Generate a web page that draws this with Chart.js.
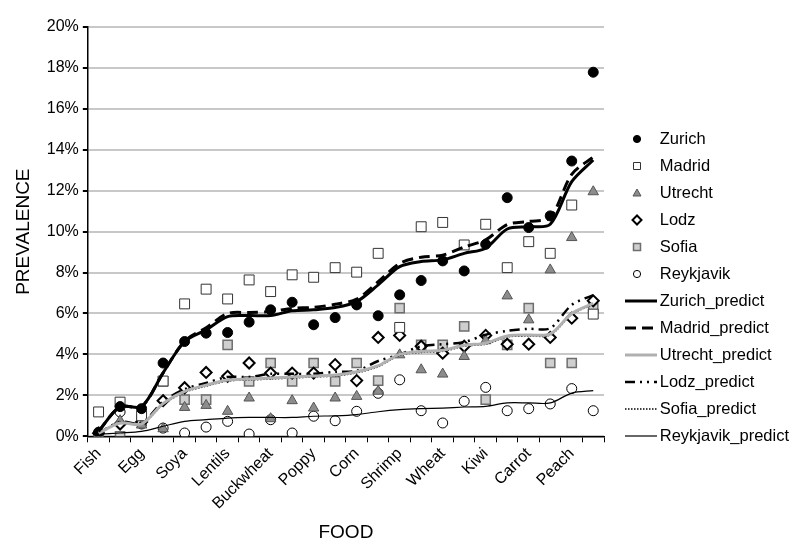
<!DOCTYPE html>
<html>
<head>
<meta charset="utf-8">
<script src="https://cdn.jsdelivr.net/npm/chart.js@4/dist/chart.umd.min.js"></script>
<style>
  html, body { margin: 0; padding: 0; background: #fff; }
  #wrap { width: 794px; height: 552px; }
</style>
</head>
<body>
<div id="wrap"><canvas id="myChart" width="794" height="552"></canvas></div>
<script>
// food categories (only every second one is labelled on the axis)
var foods = ['Fish', '', 'Egg', '', 'Soya', '', 'Lentils', '', 'Buckwheat', '', 'Poppy', '',
             'Corn', '', 'Shrimp', '', 'Wheat', '', 'Kiwi', '', 'Carrot', '', 'Peach', ''];

// observed prevalence, %
var zurich    = [0.2, 1.45, 1.35, 3.58, 4.63, 5.04, 5.07, 5.58, 6.18, 6.55, 5.45, 5.8, 6.42, 5.89, 6.91, 7.61, 8.57, 8.08, 9.38, 11.66, 10.2, 10.77, 13.45, 17.79];
var madrid    = [1.19, 1.67, 1.0, 2.7, 6.47, 7.19, 6.71, 7.64, 7.07, 7.89, 7.77, 8.24, 8.02, 8.94, 5.32, 10.24, 10.45, 9.35, 10.36, 8.24, 9.51, 8.94, 11.3, 5.97];
var utrecht   = [0.1, 0.76, 0.55, 0.37, 1.41, 1.51, 1.22, 1.87, 0.86, 1.74, 1.38, 1.87, 1.95, 2.2, 3.98, 3.25, 3.04, 3.9, 4.67, 6.86, 5.69, 8.13, 9.71, 11.95];
var lodz      = [0.15, 0.6, 0.7, 1.74, 2.37, 3.12, 2.93, 3.58, 3.09, 3.09, 3.09, 3.5, 2.72, 4.83, 4.93, 4.4, 4.06, 4.4, 4.93, 4.5, 4.5, 4.83, 5.77, 6.62];
var sofia     = [0, 0, 0.8, 2.68, 1.79, 1.79, 4.47, 2.68, 3.58, 2.68, 3.58, 2.68, 3.58, 2.72, 6.26, 4.47, 4.47, 5.37, 1.79, 4.47, 6.26, 3.58, 3.58, 6.26];
var reykjavik = [0.05, 1.19, 0.6, 0.4, 0.16, 0.45, 0.73, 0.11, 0.81, 0.16, 0.98, 0.76, 1.22, 2.1, 2.76, 1.25, 0.65, 1.71, 2.39, 1.25, 1.35, 1.58, 2.33, 1.25];

// predicted prevalence, %
var zurichPredict    = [0.25, 1.45, 1.45, 3.1, 4.63, 5.2, 5.85, 5.9, 5.9, 6.13, 6.18, 6.29, 6.58, 7.4, 8.29, 8.54, 8.62, 8.94, 9.19, 10.13, 10.24, 10.36, 12.44, 13.5];
var madridPredict    = [0.25, 1.45, 1.45, 3.1, 4.65, 5.3, 6.0, 6.05, 6.1, 6.25, 6.3, 6.45, 6.7, 7.55, 8.45, 8.75, 8.85, 9.25, 9.6, 10.35, 10.5, 10.7, 12.8, 13.65];
var utrechtPredict   = [0.15, 0.65, 0.6, 1.6, 2.2, 2.5, 2.75, 2.8, 2.85, 2.9, 2.95, 3.0, 3.15, 3.45, 4.0, 4.15, 4.2, 4.45, 4.55, 4.9, 4.95, 5.0, 6.0, 6.5];
var lodzPredict      = [0.15, 0.7, 0.65, 1.7, 2.3, 2.6, 2.9, 2.9, 3.05, 3.05, 3.05, 3.15, 3.2, 3.68, 4.0, 4.4, 4.5, 4.6, 4.96, 5.15, 5.25, 5.28, 6.42, 6.9];
var sofiaPredict     = [0.15, 0.7, 0.6, 1.55, 2.15, 2.45, 2.7, 2.75, 2.8, 2.85, 2.9, 2.95, 3.1, 3.4, 3.95, 4.1, 4.15, 4.4, 4.5, 4.85, 4.9, 4.95, 5.95, 6.45];
var reykjavikPredict = [0.1, 0.16, 0.24, 0.49, 0.73, 0.81, 0.89, 0.92, 0.92, 0.92, 0.98, 1.0, 1.06, 1.2, 1.3, 1.35, 1.38, 1.43, 1.46, 1.63, 1.63, 1.63, 2.11, 2.23];

var yTicks = [0, 2, 4, 6, 8, 10, 12, 14, 16, 18, 20];

Chart.defaults.font.family = '"Liberation Sans", Arial, sans-serif';
Chart.defaults.color = '#000';

function markers(label, data, style, radius, fill, border, bw) {
    return {
        label: label, data: data, showLine: false, order: 1,
        pointStyle: style, pointRadius: radius, pointHoverRadius: radius,
        pointBackgroundColor: fill, pointBorderColor: border, pointBorderWidth: bw,
        backgroundColor: fill, borderColor: border, borderWidth: bw
    };
}

function predict(label, data, color, width, dash) {
    return {
        label: label, data: data, order: 0,
        borderColor: color, backgroundColor: color, borderWidth: width,
        borderDash: dash, pointRadius: 0, tension: 0.3, fill: false
    };
}

// small pictures for the legend, so lines and markers keep their own look
// (the picture is centred on the legend box, so the drawing sits in its right part)
function legendIcon(ds) {
    var c = document.createElement('canvas');
    c.width = 48; c.height = 14;
    var g = c.getContext('2d');
    var cx = 28, cy = 7;
    if (ds.showLine === false) {
        g.fillStyle = ds.pointBackgroundColor;
        g.strokeStyle = ds.pointBorderColor;
        g.lineWidth = ds.pointBorderWidth;
        g.beginPath();
        if (ds.pointStyle === 'circle') {
            g.arc(cx, cy, 3.6, 0, Math.PI * 2);
        } else if (ds.pointStyle === 'rect') {
            g.rect(cx - 3.5, cy - 3.5, 7, 7);
        } else if (ds.pointStyle === 'triangle') {
            g.moveTo(cx, cy - 4); g.lineTo(cx + 4, cy + 3); g.lineTo(cx - 4, cy + 3); g.closePath();
        } else if (ds.pointStyle === 'rectRot') {
            g.moveTo(cx, cy - 4.5); g.lineTo(cx + 4.5, cy); g.lineTo(cx, cy + 4.5); g.lineTo(cx - 4.5, cy); g.closePath();
        }
        g.fill();
        g.stroke();
    } else {
        g.strokeStyle = ds.borderColor;
        g.lineWidth = ds.borderWidth;
        g.setLineDash(ds.borderDash || []);
        g.beginPath();
        g.moveTo(16, cy); g.lineTo(48, cy);
        g.stroke();
    }
    return c;
}

var ctx = document.getElementById('myChart').getContext('2d');
var myChart = new Chart(ctx, {
    type: 'line',
    data: {
        labels: foods,
        datasets: [
            markers('Zurich', zurich, 'circle', 5, '#000', '#000', 1),
            markers('Madrid', madrid, 'rect', 7, '#fff', '#333', 1),
            markers('Utrecht', utrecht, 'triangle', 6, '#8c8c8c', '#555', 1),
            markers('Lodz', lodz, 'rectRot', 5.5, '#fff', '#000', 2),
            markers('Sofia', sofia, 'rect', 6.5, '#cfcfcf', '#6e6e6e', 1.5),
            markers('Reykjavik', reykjavik, 'circle', 5, '#fff', '#000', 1),
            predict('Zurich_predict', zurichPredict, '#000', 3, []),
            predict('Madrid_predict', madridPredict, '#000', 3, [11, 6]),
            predict('Utrecht_predict', utrechtPredict, '#b0b0b0', 3, []),
            predict('Lodz_predict', lodzPredict, '#000', 2.5, [10, 5, 2, 5, 2, 5]),
            predict('Sofia_predict', sofiaPredict, '#000', 1.5, [1.5, 1.5]),
            predict('Reykjavik_predict', reykjavikPredict, '#000', 1.2, [])
        ]
    },
    options: {
        responsive: false,
        animation: false,
        layout: { padding: { top: 27, left: 8, bottom: 4 } },
        plugins: {
            tooltip: { enabled: false },
            legend: {
                position: 'right',
                maxWidth: 190,
                labels: {
                    usePointStyle: true,
                    pointStyleWidth: 37,
                    padding: 10.5,
                    font: { size: 16.5 },
                    generateLabels: function (chart) {
                        return chart.data.datasets.map(function (ds, i) {
                            return {
                                text: ds.label,
                                datasetIndex: i,
                                pointStyle: legendIcon(ds),
                                fontColor: '#000',
                                lineWidth: 0,
                                hidden: false
                            };
                        });
                    }
                }
            }
        },
        scales: {
            x: {
                offset: true,
                grid: { offset: true, drawOnChartArea: false, tickColor: '#000', tickLength: 6 },
                border: { color: '#000', width: 1.5 },
                ticks: { autoSkip: false, maxRotation: 45, minRotation: 45, font: { size: 16 }, padding: 2 },
                title: { display: true, text: 'FOOD', font: { size: 19 }, padding: { top: 6 } }
            },
            y: {
                min: 0,
                max: 20,
                afterBuildTicks: function (axis) {
                    axis.ticks = yTicks.map(function (v) { return { value: v }; });
                },
                grid: { color: '#c8c8c8', lineWidth: 2, tickColor: '#000', tickLength: 5 },
                border: { color: '#000', width: 1.5 },
                ticks: { font: { size: 16 }, padding: 4, callback: function (v) { return v + '%'; } },
                title: { display: true, text: 'PREVALENCE', font: { size: 19 }, padding: { bottom: 8 } }
            }
        }
    }
});
</script>
</body>
</html>
